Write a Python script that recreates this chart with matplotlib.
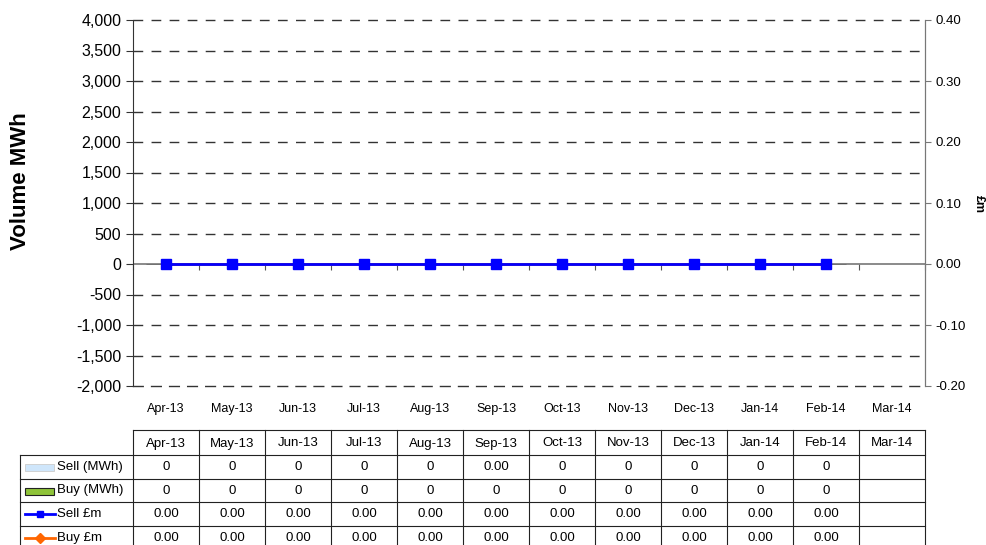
import numpy as np
import matplotlib.pyplot as plt
from matplotlib.ticker import FuncFormatter, MultipleLocator

plt.rcParams["font.family"] = ["Liberation Sans", "DejaVu Sans"]

# Data
months = ["Apr-13", "May-13", "Jun-13", "Jul-13", "Aug-13", "Sep-13",
          "Oct-13", "Nov-13", "Dec-13", "Jan-14", "Feb-14", "Mar-14"]
sell_mwh = [0, 0, 0, 0, 0, 0, 0, 0, 0, 0, 0]
buy_mwh = [0, 0, 0, 0, 0, 0, 0, 0, 0, 0, 0]
sell_gbp = [0.0, 0.0, 0.0, 0.0, 0.0, 0.0, 0.0, 0.0, 0.0, 0.0, 0.0]
buy_gbp = [0.0, 0.0, 0.0, 0.0, 0.0, 0.0, 0.0, 0.0, 0.0, 0.0, 0.0]

# table text as shown in the chart data table
sell_mwh_txt = ["0", "0", "0", "0", "0", "0.00", "0", "0", "0", "0", "0", ""]
buy_mwh_txt = ["0"] * 11 + [""]
sell_gbp_txt = [f"{v:.2f}" for v in sell_gbp] + [""]
buy_gbp_txt = [f"{v:.2f}" for v in buy_gbp] + [""]

W, H = 987, 545
fig = plt.figure(figsize=(W / 100, H / 100), dpi=100)

# plot area in pixels
left, right, top, bottom = 133, 925, 20, 386
ax = fig.add_axes([left / W, 1 - bottom / H, (right - left) / W, (bottom - top) / H])

x = np.arange(len(months))
n = len(sell_mwh)

ax.bar(x[:n], sell_mwh, width=0.6, color="#cfe6fb", edgecolor="#aaaaaa", linewidth=0.5)
ax.bar(x[:n], buy_mwh, width=0.6, color="#8fc43a", edgecolor="#333333", linewidth=0.5)

ax.set_xlim(-0.5, len(months) - 0.5)
ax.set_ylim(-2000, 4000)
ax.yaxis.set_major_locator(MultipleLocator(500))
ax.yaxis.set_major_formatter(FuncFormatter(lambda v, p: f"{v:,.0f}"))
ax.set_xticks(x)
ax.set_xticklabels(months, fontsize=9)
ax.tick_params(axis="x", length=0, pad=12)
ax.tick_params(axis="y", labelsize=11.5, direction="out", length=5, color="#333333")

for v in np.arange(-1500, 4001, 500):
    if v == 0:
        continue
    ax.axhline(v, color="#333333", linewidth=1.0, linestyle=(0, (7, 6)), zorder=5, clip_on=False)
ax.axhline(0, color="#777777", linewidth=1.2, zorder=1)

ax.spines["top"].set_visible(False)
# bottom edge drawn as the -2,000 dashed gridline
ax.spines["bottom"].set_color("#333333")
ax.spines["bottom"].set_linestyle((0, (7, 6)))
ax.spines["bottom"].set_linewidth(1.0)
ax.spines["left"].set_color("#333333")
ax.spines["right"].set_color("#777777")

# category axis crossing at zero
sec = ax.secondary_xaxis(2000 / 6000)
sec.set_xticks(np.arange(-0.5, len(months), 1.0))
sec.tick_params(axis="x", direction="out", length=4, color="#555555", labelbottom=False, labeltop=False)
sec.spines["bottom"].set_visible(False)
sec.spines["top"].set_visible(False)

ax2 = ax.twinx()
ax2.set_ylim(-0.2, 0.4)
ax2.yaxis.set_major_locator(MultipleLocator(0.1))
ax2.yaxis.set_major_formatter(FuncFormatter(lambda v, p: f"{v:.2f}"))
ax2.tick_params(axis="y", labelsize=9.5, direction="out", length=4, color="#777777")
for side in ["top", "bottom", "left"]:
    ax2.spines[side].set_visible(False)
ax2.spines["right"].set_color("#777777")

ax2.plot(x[:n], buy_gbp, color="#ff6600", linewidth=2, marker="D", markersize=5, zorder=3)
ax2.plot(x[:n], sell_gbp, color="#0000ff", linewidth=2, marker="s", markersize=6.5, zorder=4)

# axis titles
fig.text(21 / W, 1 - 181 / H, "Volume MWh", rotation=90, ha="center", va="center",
         fontsize=16, fontweight="bold")
fig.text(979 / W, 1 - 204 / H, "£m", rotation=-90, ha="center", va="center",
         fontsize=9, fontweight="bold")

# data table
tax = fig.add_axes([0, 0, 1, 1])
tax.set_xlim(0, W)
tax.set_ylim(H, 0)
tax.axis("off")

col_edges = [left + 66 * i for i in range(len(months) + 1)]
row_edges = [430, 455, 479, 502, 526, 550]
label_left = 20
lc = "#222222"

# header
tax.plot([left, right], [row_edges[0], row_edges[0]], color=lc, lw=0.8)
for r in row_edges[1:]:
    tax.plot([label_left, right], [r, r], color=lc, lw=0.8)
for c in col_edges:
    tax.plot([c, c], [row_edges[0], H], color=lc, lw=0.8)
tax.plot([label_left, label_left], [row_edges[1], H], color=lc, lw=0.8)

for i, m in enumerate(months):
    cx = (col_edges[i] + col_edges[i + 1]) / 2
    tax.text(cx, (row_edges[0] + row_edges[1]) / 2 + 1, m, ha="center", va="center", fontsize=9.5)

rows = [sell_mwh_txt, buy_mwh_txt, sell_gbp_txt, buy_gbp_txt]
names = ["Sell (MWh)", "Buy (MWh)", "Sell £m", "Buy £m"]
for j, (vals, name) in enumerate(zip(rows, names)):
    cy = (row_edges[j + 1] + row_edges[j + 2]) / 2
    if j == 3:
        cy = row_edges[4] + 12
    for i, t in enumerate(vals):
        cx = (col_edges[i] + col_edges[i + 1]) / 2
        tax.text(cx, cy, t, ha="center", va="center", fontsize=9.5)
    tax.text(57, cy, name, ha="left", va="center", fontsize=9.5)

# legend keys
tax.add_patch(plt.Rectangle((25, 464), 29, 7, facecolor="#cfe6fb", edgecolor="#cccccc", lw=0.6))
tax.add_patch(plt.Rectangle((25, 488), 29, 7, facecolor="#8fc43a", edgecolor="#222222", lw=0.8))
tax.plot([25, 55], [514, 514], color="#0000ff", lw=2)
tax.plot([40], [514], marker="s", color="#0000ff", markersize=5)
tax.plot([25, 55], [538, 538], color="#ff6600", lw=2)
tax.plot([40], [538], marker="D", color="#ff6600", markersize=5)

fig.savefig("out.png", dpi=100)
